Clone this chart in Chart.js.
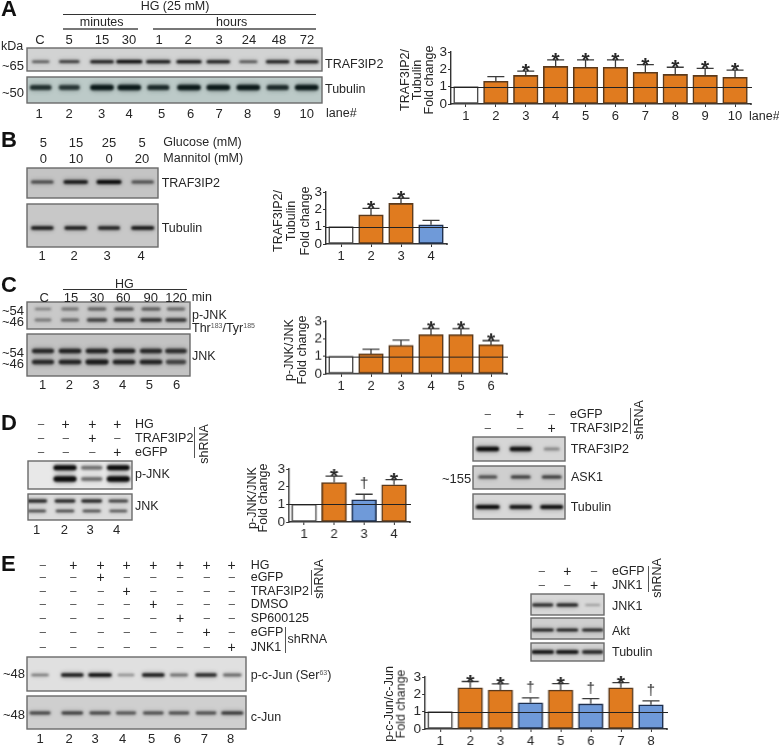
<!DOCTYPE html>
<html><head><meta charset="utf-8">
<script src="https://cdn.jsdelivr.net/npm/chart.js@4"></script>
<style>
html,body{margin:0;padding:0;background:#fff;}
#fig{position:relative;width:779px;height:745px;overflow:hidden;font-family:"Liberation Sans",Arial,sans-serif;color:#262626;}
#fig canvas{position:absolute;}
.t{position:absolute;white-space:nowrap;line-height:1;font-size:12.5px;}
.r{position:absolute;}
sup{font-size:7px;line-height:0;vertical-align:4px;color:#555;}
</style></head><body><div id="fig"><canvas id="blots" width="779" height="745" style="left:0;top:0"></canvas></div>
<script>
// ---------- bar chart data ----------
const aLanes=['1','2','3','4','5','6','7','8','9','10'];
const aValues=[1,1.31,1.65,2.17,2.12,2.12,1.83,1.71,1.65,1.54];
const aErrTop=[null,1.58,1.9,2.54,2.54,2.54,2.27,2.12,2.06,1.96];
const aMarks=['','','*','*','*','*','*','*','*','*'];
const aFill=['w','o','o','o','o','o','o','o','o','o'];

const bLanes=['1','2','3','4'];
const bValues=[1,1.68,2.34,1.11];
const bErrTop=[null,2.06,2.64,1.36];
const bMarks=['','*','*',''];
const bFill=['w','o','o','b'];

const cLanes=['1','2','3','4','5','6'];
const cValues=[1,1.14,1.62,2.23,2.23,1.66];
const cErrTop=[null,1.41,1.92,2.57,2.57,1.89];
const cMarks=['','','','*','*','*'];
const cFill=['w','o','o','o','o','o'];

const dLanes=['1','2','3','4'];
const dValues=[1,2.23,1.26,2.11];
const dErrTop=[null,2.6,1.57,2.4];
const dMarks=['','*','†','*'];
const dFill=['w','o','b','o'];

const eLanes=['1','2','3','4','5','6','7','8'];
const eValues=[1,2.38,2.25,1.51,2.25,1.45,2.38,1.40];
const eErrTop=[null,2.74,2.6,1.79,2.62,1.75,2.68,1.62];
const eMarks=['','*','*','†','*','†','*','†'];
const eFill=['w','o','o','b','o','b','o','b'];

const yTicks=[0,1,2,3];

// ---------- blot band strengths, per lane ----------
const aTraf=[.45,.65,.85,1,.9,.95,.85,.5,.85,.85];
const aTub=[.75,.7,.95,.95,.8,.95,.95,.95,.8,.95];
const bTraf=[.55,.9,1,.5];
const bTub=[.85,.85,.8,.9];
const cPjnkUp=[.25,.35,.5,.6,.55,.45];
const cPjnkLo=[.3,.45,.7,.8,.85,.8];
const cJnkUp=[.8,.85,.85,.85,.8,.75];
const cJnkLo=[.8,.85,.9,.85,.85,.6];
const dPjnkUp=[0,1,.35,.95];
const dPjnkLo=[0,1,.35,1];
const dJnkUp=[.85,.85,.85,.7];
const dJnkLo=[.6,.6,.55,.5];
const d2Traf=[1,.9,.2];
const d2Ask=[.55,.65,.65];
const d2Tub=[1,.85,.9];
const ePcjun=[.3,.85,.95,.2,.85,.35,.75,.4];
const eCjun=[.6,.65,.6,.5,.55,.55,.55,.7];
const e2Jnk=[.8,.85,.1];
const e2Akt=[1,.95,.9];
const e2Tub=[.95,.95,.8];

// ---------- treatment rows ----------
const dRows=[['HG','−+++'],['TRAF3IP2','−−+−'],['eGFP','−−−+']];
const d2Rows=[['eGFP','−+−'],['TRAF3IP2','−−+']];
const eRows=[['HG','−+++++++'],['eGFP','−−+−−−−−'],['TRAF3IP2','−−−+−−−−'],['DMSO','−−−−+−−−'],['SP600125','−−−−−+−−'],['eGFP','−−−−−−+−'],['JNK1','−−−−−−−+']];
const e2Rows=[['eGFP','−+−'],['JNK1','−−+']];

const fig=document.getElementById('fig');
const FONT='"Liberation Sans",Arial,sans-serif';
function T(html,x,y,o){o=o||{};
  const d=document.createElement('div');d.className='t';d.innerHTML=html;
  d.style.left=x+'px';d.style.top=y+'px';
  const tx=o.a==='l'?'0':'-50%';
  d.style.transform='translate('+tx+',-50%)'+(o.rot?' rotate(-90deg)':'');
  if(o.size)d.style.fontSize=o.size+'px';
  if(o.w)d.style.fontWeight=o.w;
  if(o.c)d.style.color=o.c;
  fig.appendChild(d);
}
function HL(x0,x1,y,c,h){const d=document.createElement('div');d.className='r';
  d.style.cssText+='left:'+x0+'px;top:'+y+'px;width:'+(x1-x0)+'px;height:'+(h||1.2)+'px;background:'+(c||'#333');fig.appendChild(d);}
function VL(x,y0,y1){const d=document.createElement('div');d.className='r';
  d.style.cssText+='left:'+x+'px;top:'+y0+'px;width:1px;height:'+(y1-y0)+'px;background:#555';fig.appendChild(d);}
function row(list,y,xs){[...list].forEach((s,i)=>T(s,xs[i],y,{size:s==='+'?14:13,c:s==='+'?'#222':'#555'}));}
function nums(list,y,xs){list.forEach((s,i)=>T(s,xs[i],y,{size:13}));}

// ---------- blots ----------
const bctx=document.getElementById('blots').getContext('2d');
function band(x,y,w,h,s,ink,taper){
  if(s<=0)return;
  const ww=w*(1-taper+taper*s),hh=h*(.65+.35*s);
  bctx.fillStyle=ink;
  bctx.filter='blur(2.2px)';bctx.globalAlpha=.3*s;
  bctx.beginPath();bctx.roundRect(x-ww/2,y-hh*.8,ww,hh*1.6,hh*.8);bctx.fill();
  bctx.filter='blur(.8px)';bctx.globalAlpha=Math.min(1,.2+.85*s);
  bctx.beginPath();bctx.roundRect(x-ww/2,y-hh/2,ww,hh,hh/2);bctx.fill();
  bctx.filter='none';bctx.globalAlpha=1;
}
function blot(x0,y0,x1,y1,bg,lanes,w,rows,ink){
  bctx.save();bctx.beginPath();bctx.rect(x0,y0,x1-x0,y1-y0);bctx.clip();
  bctx.fillStyle=bg;bctx.fillRect(x0,y0,x1-x0,y1-y0);
  rows.forEach(r=>r.s.forEach((s,i)=>band(lanes[i],r.y,w,r.h,s,ink||'#0c0c0c',r.t===undefined?.38:r.t)));
  bctx.restore();
  bctx.strokeStyle='#6a6a6a';bctx.lineWidth=1.4;bctx.strokeRect(x0,y0,x1-x0,y1-y0);
}
const laA=[40.7,69.3,102,129.3,158.3,189,218.3,248.3,277.7,306.7];
blot(27,48,322,71,'#d2d3d3',laA,26,[{y:61.7,h:3.2,s:aTraf,t:.6}]);
blot(27,77,322,103,'#bccac8',laA,24,[{y:87.5,h:5.5,s:aTub}],'#0c1a1a');
const laB=[42.3,75.7,109,142.7];
blot(27,168,158,198,'#c4c4c4',laB,25,[{y:182,h:3.8,s:bTraf,t:.2}]);
blot(27,204,158,247,'#c8c8c8',laB,24,[{y:228,h:3.6,s:bTub}]);
const laC=[43,70,97,124,151,176];
blot(27,302,190,329,'#c9c9c9',laC,23,[{y:309,h:3.6,s:cPjnkUp},{y:320,h:3.8,s:cPjnkLo}],'#222');
blot(27,334,190,376,'#c3c3c3',laC,24,[{y:351,h:5,s:cJnkUp},{y:362,h:5,s:cJnkLo}],'#161616');
const laD=[36.7,65,91.7,118.3];
blot(28,461,132,489,'#e8e8e8',laD,23,[{y:467.7,h:5,s:dPjnkUp,t:.1},{y:479,h:5.5,s:dPjnkLo,t:.1}]);
blot(28,494,132,520,'#dcdcdc',laD,22,[{y:501,h:3,s:dJnkUp},{y:511,h:3,s:dJnkLo}]);
const laD2=[487.7,520.7,551.7];
blot(473,437,565,461,'#d6d6d6',laD2,23,[{y:449,h:4.5,s:d2Traf}]);
blot(473,466,565,489,'#cfcfcf',laD2,23,[{y:477,h:3.6,s:d2Ask}]);
blot(473,494,565,519,'#d8d8d8',laD2,24,[{y:507,h:4.2,s:d2Tub}]);
const laE=[40,72.3,100,126,153.3,179,206,232.3];
blot(27,657,246,691,'#e0e0e0',laE,24,[{y:675,h:3.6,s:ePcjun}]);
blot(27,696,246,729,'#cfcfcf',laE,25,[{y:713,h:3.4,s:eCjun}]);
const laE2=[542.7,567.3,592.7];
blot(531,594,604,615,'#d8d8d8',laE2,23,[{y:605,h:3.2,s:e2Jnk}]);
blot(531,618,604,639,'#cfcfcf',laE2,22,[{y:630,h:2.6,s:e2Akt}]);
blot(531,643,604,661,'#d4d4d4',laE2,23,[{y:652,h:3.6,s:e2Tub}]);

// ---------- bar charts ----------
const COL={o:'#E07B1F',b:'#6F9AD9',w:'#ffffff'};
const EDGE={o:'#5b3a1c',b:'#1e2f4d',w:'#4d4d4d'};
const barExtras={id:'barExtras',afterDatasetsDraw(ch,args,opts){
  const g=ch.ctx,x=ch.scales.x,y=ch.scales.y,m=ch.getDatasetMeta(0);
  g.save();
  g.strokeStyle='#3a3a3a';g.lineWidth=1.3;
  opts.err.forEach((v,i)=>{ if(v==null)return;
    const px=m.data[i].x,py=y.getPixelForValue(v),pb=y.getPixelForValue(ch.data.datasets[0].data[i]);
    g.beginPath();g.moveTo(px,pb);g.lineTo(px,py);g.moveTo(px-8.5,py);g.lineTo(px+8.5,py);g.stroke();
  });
  const y1=Math.round(y.getPixelForValue(1))+.5,y0=y.getPixelForValue(0);
  g.strokeStyle='#222';g.lineWidth=1.2;
  g.beginPath();g.moveTo(x.left-1,y1);g.lineTo(x.right+2,y1);g.stroke();
  g.strokeStyle='#333';g.lineWidth=1.4;
  g.beginPath();g.moveTo(x.right,y0);g.lineTo(x.right+2,y0);g.stroke();
  g.fillStyle='#2a2a2a';g.textAlign='center';g.textBaseline='alphabetic';
  opts.marks.forEach((s,i)=>{ if(!s)return;
    const px=m.data[i].x,py=y.getPixelForValue(opts.err[i]);
    if(s==='*'){g.font='bold 21px '+FONT;g.fillText(s,px,py+7);}
    else{g.font='15px '+FONT;g.fillText(s,px,py-6);}
  });
  g.restore();
}};
function bars(x0,x1,yTop,yBase,labels,values,err,marks,fill){
  const L=22,R=4,TP=22,BP=20;
  const cv=document.createElement('canvas');
  const W=x1-x0+L+R,H=yBase-yTop+TP+BP;
  cv.style.left=(x0-L)+'px';cv.style.top=(yTop-TP)+'px';
  cv.style.width=W+'px';cv.style.height=H+'px';
  cv.width=W;cv.height=H;
  fig.appendChild(cv);
  new Chart(cv,{type:'bar',plugins:[barExtras],
    data:{labels:labels,datasets:[{data:values,
      backgroundColor:fill.map(k=>COL[k]),borderColor:fill.map(k=>EDGE[k]),
      borderWidth:1.6,borderSkipped:false,barThickness:24.6}]},
    options:{responsive:false,animation:false,devicePixelRatio:1,
      layout:{padding:{top:TP,right:R,left:0,bottom:0}},
      plugins:{legend:{display:false},tooltip:{enabled:false},barExtras:{err:err,marks:marks}},
      scales:{
        x:{afterFit(s){s.height=BP;},border:{color:'#333',width:1.4},
           grid:{drawOnChartArea:false,offset:false,color:'#333',tickLength:3,tickWidth:1},
           ticks:{color:'#262626',font:{family:FONT,size:13},padding:2,maxRotation:0,autoSkip:false}},
        y:{min:0,max:3,afterFit(s){s.width=L;},afterBuildTicks(s){s.ticks=yTicks.map(v=>({value:v}));},
           border:{color:'#333',width:1.4},
           grid:{drawOnChartArea:false,color:'#333',tickLength:3,tickWidth:1},
           ticks:{color:'#262626',font:{family:FONT,size:13.5},padding:1,autoSkip:false,includeBounds:true}}
      }}});
}
bars(450.6,750.4,52,104,aLanes,aValues,aErrTop,aMarks,aFill);
bars(325.6,445.6,191.5,244,bLanes,bValues,bErrTop,bMarks,bFill);
bars(325.6,505.6,321,373.5,cLanes,cValues,cErrTop,cMarks,cFill);
bars(289,408.6,468.5,521.7,dLanes,dValues,dErrTop,dMarks,dFill);
bars(425,665.6,676.5,729,eLanes,eValues,eErrTop,eMarks,eFill);

// ---------- panel letters ----------
[['A',1,9],['B',1,140],['C',1,285],['D',1,423],['E',1,564]].forEach(p=>T(p[0],p[1],p[2],{a:'l',size:22,w:'bold',c:'#111'}));

// ---------- panel A text ----------
T('HG (25 mM)',175,6);HL(62.7,316,14.2,'#333');
T('minutes',101.7,22);T('hours',231.7,22);
HL(62.7,138,28.2,'#777',1.5);HL(153,316,28.2,'#777',1.5);
nums(['C','5','15','30','1','2','3','24','48','72'],38.5,[40,69,102,129,159,188,219,249,279,307]);
T('kDa',1,46,{a:'l'});T('~65',2,64.5,{a:'l',size:13});T('~50',2,91.5,{a:'l',size:13});
T('TRAF3IP2',325,63.5,{a:'l'});T('Tubulin',325,89,{a:'l'});
nums(aLanes,113,[39,69,101.7,129,161.7,190.7,219,247.7,277,306.7]);
T('lane#',326,113,{a:'l'});T('lane#',749,115.5,{a:'l'});
T('TRAF3IP2/',405,80,{rot:1});T('Tubulin',417,80,{rot:1});T('Fold change',429,80,{rot:1});

// ---------- panel B text ----------
nums(['5','15','25','5'],141.7,[43.3,76,109,142]);
nums(['0','10','0','20'],158.3,[43.3,76,109,142]);
T('Glucose (mM)',163.3,141.7,{a:'l'});T('Mannitol (mM)',163.3,158.3,{a:'l'});
T('TRAF3IP2',161.7,183,{a:'l'});T('Tubulin',161.7,227.5,{a:'l'});
nums(bLanes,255,[42,74,107,141]);
T('TRAF3IP2/',277.7,221,{rot:1});T('Tubulin',291,221,{rot:1});T('Fold change',305,221,{rot:1});

// ---------- panel C text ----------
T('HG',124.3,283.5);HL(62.7,187.3,288.8,'#333');
nums(['C','15','30','60','90','120'],296.5,[44.3,71,97,123.3,150.7,176]);
T('min',191.7,296.5,{a:'l'});
T('~54',2,309.5,{a:'l',size:13});T('~46',2,321,{a:'l',size:13});
T('~54',2,351.7,{a:'l',size:13});T('~46',2,362.7,{a:'l',size:13});
T('p-JNK',192,315,{a:'l'});T('Thr<sup>183</sup>/Tyr<sup>185</sup>',192,328,{a:'l'});T('JNK',192,355.7,{a:'l'});
nums(cLanes,384,[42.7,69.3,96,122.7,149.3,176.7]);
T('p-JNK/JNK',289.3,350,{rot:1});T('Fold change',301.7,350,{rot:1});

// ---------- panel D text ----------
const xD=[41,65.7,92.3,117.3];
dRows.forEach((r,i)=>{const y=[424.3,438.3,452.3][i];row(r[1],y,xD);T(r[0],135,y,{a:'l'});});
VL(194.3,426.7,458);T('shRNA',204,444.3,{rot:1});
T('p-JNK',135,473.5,{a:'l'});T('JNK',135,505.7,{a:'l'});
nums(dLanes,528.5,[36.7,64.3,90,116.7]);
T('p-JNK/JNK',252.3,497.5,{rot:1});T('Fold change',263.3,497.5,{rot:1});
const xD2=[487.7,520,551.7];
d2Rows.forEach((r,i)=>{const y=[414,428.3][i];row(r[1],y,xD2);T(r[0],570,y,{a:'l'});});
VL(630.3,408.3,434.3);T('shRNA',639,420,{rot:1});
T('TRAF3IP2',570.7,448.5,{a:'l'});T('ASK1',571,476.7,{a:'l'});T('Tubulin',570.7,506.7,{a:'l'});
T('~155',442,478,{a:'l',size:13});

// ---------- panel E text ----------
const xE=[42.7,73.3,100.7,126.7,153.3,180,206.7,231.7];
eRows.forEach((r,i)=>{const y=[565,577.3,590.7,604.3,618,632.3,647][i];row(r[1],y,xE);T(r[0],250.7,y,{a:'l'});});
VL(310.7,570,595);T('shRNA',319,579,{rot:1});
VL(285.3,626.7,653.3);T('shRNA',287.5,639,{a:'l'});
T('p-c-Jun (Ser<sup>63</sup>)',250.7,674.5,{a:'l'});T('c-Jun',250.7,716.7,{a:'l'});
T('~48',3,673,{a:'l',size:13});T('~48',3,713.5,{a:'l',size:13});
nums(eLanes,738,[40,69,95,122.7,151.7,177.3,204.3,230.7]);
T('p-c-Jun/c-Jun',389.3,704,{rot:1});T('Fold change',401,704,{rot:1});
const xE2=[541.7,567.3,594];
e2Rows.forEach((r,i)=>{const y=[570.7,585][i];row(r[1],y,xE2);T(r[0],612,y,{a:'l'});});
VL(648.3,565.7,591.7);T('shRNA',657.3,577.7,{rot:1});
T('JNK1',612,605.7,{a:'l'});T('Akt',612,631,{a:'l'});T('Tubulin',612,652,{a:'l'});
</script></body></html>
